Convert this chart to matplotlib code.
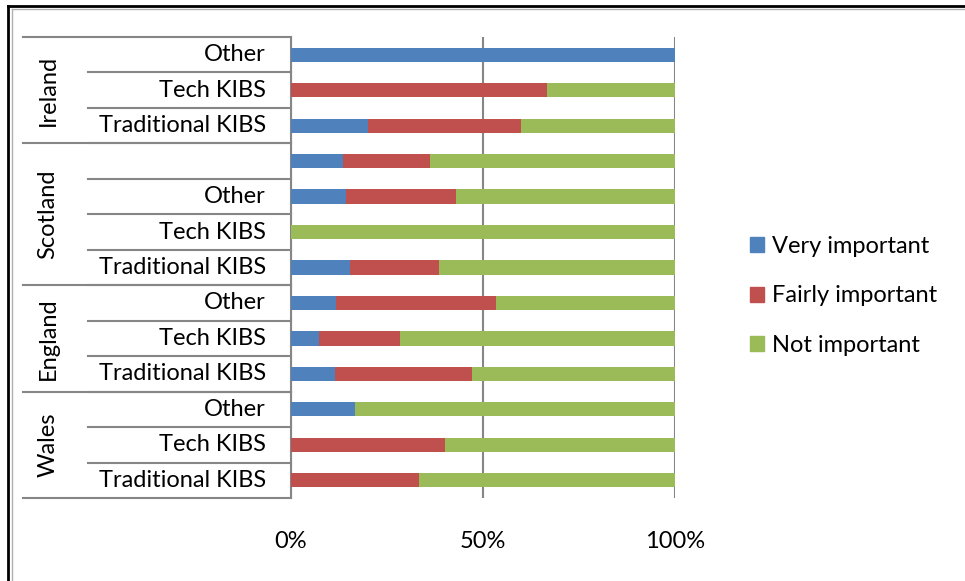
import matplotlib
matplotlib.use("Agg")
import matplotlib.pyplot as plt
from matplotlib.patches import Rectangle
from matplotlib.lines import Line2D
import numpy as np

# rows from bottom to top
groups = ["Wales", "England", "Scotland", "Ireland"]
group_sizes = [3, 3, 4, 3]
categories = ["Traditional KIBS", "Tech KIBS", "Other",
              "Traditional KIBS", "Tech KIBS", "Other",
              "Traditional KIBS", "Tech KIBS", "Other", "",
              "Traditional KIBS", "Tech KIBS", "Other"]

very_important = [0.0, 0.0, 16.7,
                  11.5, 7.2, 11.8,
                  15.4, 0.0, 14.3, 13.6,
                  20.0, 0.0, 100.0]
fairly_important = [33.3, 40.0, 0.0,
                    35.6, 21.2, 41.6,
                    23.1, 0.0, 28.6, 22.7,
                    40.0, 66.7, 0.0]
not_important = [66.7, 60.0, 83.3,
                 52.9, 71.6, 46.6,
                 61.5, 100.0, 57.1, 63.6,
                 40.0, 33.3, 0.0]

series_names = ["Very important", "Fairly important", "Not important"]
colors = ["#4F81BD", "#C0504D", "#9BBB59"]
font = "Lato"
fs = 17

fig = plt.figure(figsize=(9.65, 5.81), dpi=100)
W, H = 965, 581
ax = fig.add_axes([291 / W, 1 - 498 / H, 384 / W, 461 / H])

y = np.arange(len(categories)) + 0.5
left = np.zeros(len(categories))
for vals, name, col in zip([very_important, fairly_important, not_important], series_names, colors):
    ax.barh(y, vals, left=left, height=0.4, color=col, label=name, zorder=3)
    left += np.array(vals)

ax.set_xlim(0, 100)
ax.set_ylim(0, len(categories))
ax.set_xticks([0, 50, 100])
ax.set_xticklabels(["0%", "50%", "100%"], fontsize=fs, family=font)
ax.tick_params(axis="x", length=0, pad=24)
ax.set_yticks([])
for s in ["top", "right", "bottom"]:
    ax.spines[s].set_visible(False)
ax.spines["left"].set_color("#868686")
ax.spines["left"].set_linewidth(1.5)
ax.grid(axis="x", color="#868686", linewidth=1.5, zorder=0)

# category labels and separator lines
trans = ax.get_yaxis_transform()
cat_x = -25 / 384
for yi, cat in zip(y, categories):
    ax.text(cat_x, yi, cat, ha="right", va="center", fontsize=fs, family=font, transform=trans)
for k in range(1, len(categories)):
    ax.plot([-203 / 384, 0], [k, k], color="#868686", lw=1.5, transform=trans, clip_on=False)

bounds = np.concatenate([[0], np.cumsum(group_sizes)])
for b in bounds:
    ax.plot([-268 / 384, 0], [b, b], color="#868686", lw=1.5, transform=trans, clip_on=False)
for g, lo, hi in zip(groups, bounds[:-1], bounds[1:]):
    ax.text(-243 / 384, (lo + hi) / 2, g, rotation=90, ha="center", va="center",
            fontsize=fs, family=font, transform=trans)

# legend
handles = [Rectangle((0, 0), 1, 1, color=c) for c in colors]
fig.legend(handles, series_names, loc="center left", bbox_to_anchor=(750 / W, 1 - 296 / H),
           frameon=False, prop={"family": font, "size": fs}, borderpad=0, borderaxespad=0,
           handlelength=0.6, handleheight=0.6, labelspacing=1.22, handletextpad=0.35)

# frame
fig.add_artist(Line2D([8 / W, 8 / W], [0, 1 - 6 / H], color="black", lw=2))
fig.add_artist(Line2D([8 / W, 1], [1 - 6 / H, 1 - 6 / H], color="black", lw=2))
fig.add_artist(Line2D([12 / W, 12 / W], [0, 1 - 9 / H], color="#B0B0B0", lw=1))
fig.add_artist(Line2D([12 / W, 1], [1 - 9 / H, 1 - 9 / H], color="#B0B0B0", lw=1))

fig.savefig("out.png", dpi=100, facecolor="white")
